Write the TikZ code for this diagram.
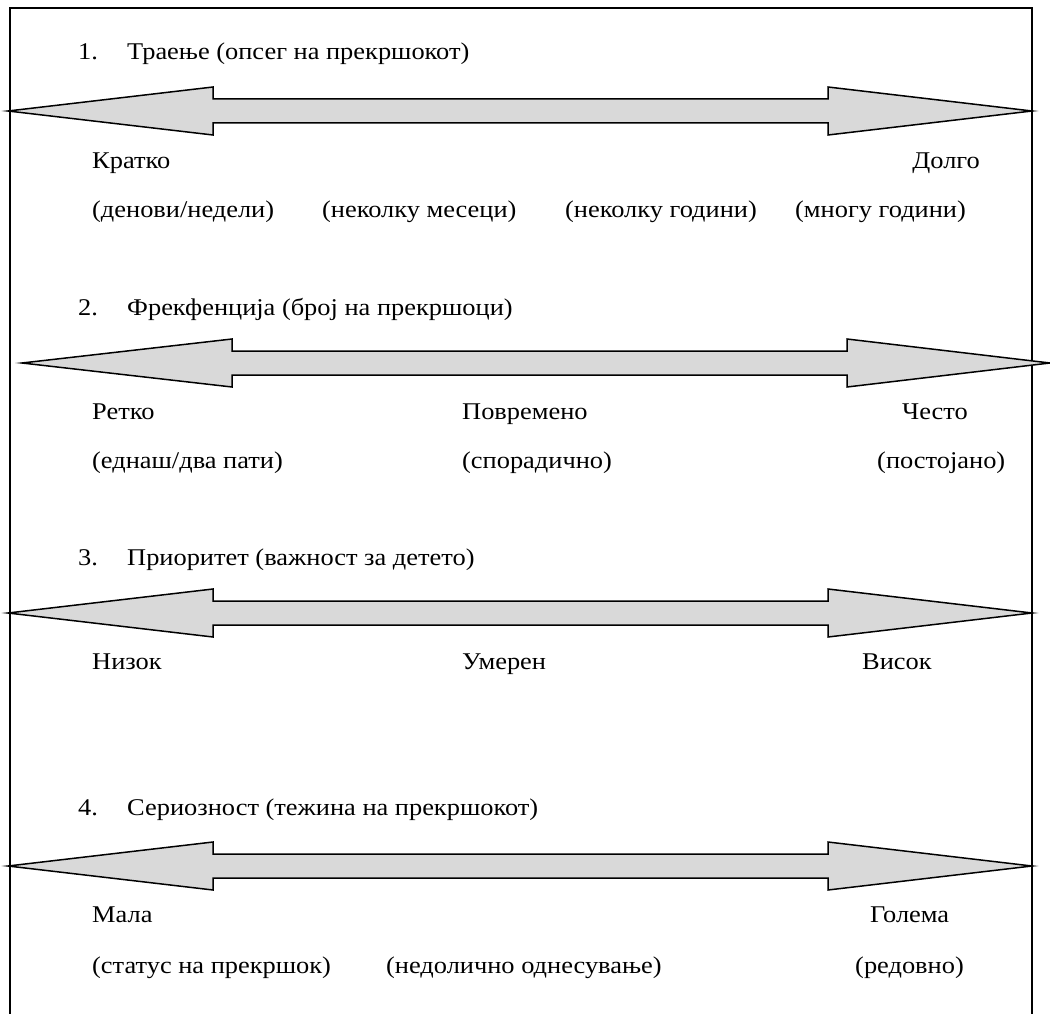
\documentclass[tikz,border=0pt]{standalone}
\usepackage{fontspec}
\setmainfont{Liberation Serif}[FakeStretch=1.1]
\newcommand\blockarrow[5]{%
  \draw[blockarr] (#1,#5) -- (#2,#5-24) -- (#2,#5-12) -- (#3,#5-12) -- (#3,#5-24) -- (#4,#5)
    -- (#3,#5+24) -- (#3,#5+12) -- (#2,#5+12) -- (#2,#5+24) -- cycle;}
\begin{document}
\begin{tikzpicture}[x=1pt,y=-1pt,
  lbl/.style={inner sep=0pt,anchor=base west,font=\fontsize{24}{28}\selectfont},
  frame/.style={draw=black,line width=1.5pt},
  blockarr/.style={draw=black,fill=gray!30,line width=1.5pt,line join=miter}]
\useasboundingbox (0,0) rectangle (1050,1014);
\draw[frame] (10,1014) -- (10,8) -- (1032,8) -- (1032,1014);
% arrows
\blockarrow{8}{213}{828}{1032}{111}
\blockarrow{22}{232}{847}{1050}{363}
\blockarrow{8}{213}{828}{1032}{613}
\blockarrow{8}{213}{828}{1032}{866}
% row 1
\node[lbl] (n1) at (78,60) {1.};
\node[lbl] (t1) at (127,60) {Траење (опсег на прекршокот)};
\node[lbl] (a1) at (92,168) {Кратко};
\node[lbl,anchor=base east] (b1) at (980,168) {Долго};
\node[lbl] (s11) at (92,217) {(денови/недели)};
\node[lbl] (s12) at (322,217) {(неколку месеци)};
\node[lbl] (s13) at (565,217) {(неколку години)};
\node[lbl] (s14) at (795,217) {(многу години)};
% row 2
\node[lbl] (n2) at (78,315) {2.};
\node[lbl] (t2) at (127,315) {Фрекфенција (број на прекршоци)};
\node[lbl] (a2) at (92,419) {Ретко};
\node[lbl] (m2) at (462,419) {Повремено};
\node[lbl] (b2) at (902,419) {Често};
\node[lbl] (s21) at (92,468) {(еднаш/два пати)};
\node[lbl] (s22) at (462,468) {(спорадично)};
\node[lbl] (s23) at (877,468) {(постојано)};
% row 3
\node[lbl] (n3) at (78,565) {3.};
\node[lbl] (t3) at (127,565) {Приоритет (важност за детето)};
\node[lbl] (a3) at (92,669) {Низок};
\node[lbl] (m3) at (462,669) {Умерен};
\node[lbl] (b3) at (862,669) {Висок};
% row 4
\node[lbl] (n4) at (78,815) {4.};
\node[lbl] (t4) at (127,815) {Сериозност (тежина на прекршокот)};
\node[lbl] (a4) at (92,922) {Мала};
\node[lbl] (b4) at (870,922) {Голема};
\node[lbl] (s41) at (92,973) {(статус на прекршок)};
\node[lbl] (s42) at (386,973) {(недолично однесување)};
\node[lbl] (s43) at (855,973) {(редовно)};
\end{tikzpicture}
\end{document}
